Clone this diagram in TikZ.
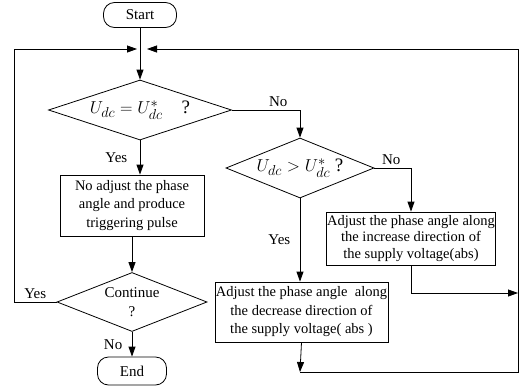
\documentclass[tikz,border=0pt]{standalone}
\usepackage{fontspec}
\setmainfont{Liberation Serif}
\usetikzlibrary{shapes.geometric,arrows.meta}

\tikzset{
	every node/.style={font=\fontsize{15}{18.5}\selectfont},
	term/.style={draw, rectangle, rounded corners=11pt, inner sep=0pt},
	decision/.style={draw, diamond, aspect=3, inner sep=0pt},
	process/.style={draw, rectangle, align=center, inner sep=1pt, font=\fontsize{14.5}{18.5}\selectfont},
	bigmath/.style={font=\fontsize{19}{19}\selectfont},
	arr/.style={-{Triangle[length=10pt,width=7pt]}}
}

\begin{document}
\begin{tikzpicture}[x=1pt, y=-1pt, line width=0.8pt]
	\useasboundingbox (0,0) rectangle (523,389);

	% start, decisions and end
	\node[term, minimum width=73pt, minimum height=25pt]	(start)	at (140,15)		{Start};
	\node[decision, bigmath, minimum width=183pt, minimum height=60pt]	(eq)	at (140,110)	{$U_{dc} = U_{dc}^{*}$\quad ?};
	\node[decision, bigmath, minimum width=148pt, minimum height=60pt]	(gt)	at (300,168)	{$U_{dc} > U_{dc}^{*}$\ ?};
	\node[decision, minimum width=150pt, minimum height=59pt, align=center]	(cont)	at (132,302)	{Continue\\?};
	\node[term, minimum width=69pt, minimum height=28pt]	(stop)	at (132,371)	{End};

	% actions
	\node[process, minimum width=144pt, minimum height=61pt]	(hold)	at (132,205.5)	{No adjust the phase\\angle and produce\\triggering pulse};
	\node[process, minimum width=168pt, minimum height=53pt, font=\fontsize{14.5}{16.5}\selectfont]	(inc)	at (411,238.5)	{Adjust the phase angle along\\the increase direction of\\the supply voltage(abs)};
	\node[process, minimum width=169pt, minimum height=60pt]	(dec)	at (301.5,312)	{Adjust the phase angle\ \ along\\the decrease direction of\\the supply voltage( abs )};

	% loop corners
	\coordinate (lt)	at (14,49);
	\coordinate (lb)	at (14,302);
	\coordinate (rt)	at (518,49);
	\coordinate (rb)	at (518,372);
	\coordinate (rm)	at (518,293);
	\coordinate (db)	at (300,372);
	\coordinate (jl)	at (137,49);
	\coordinate (jr)	at (147,49);

	% main flow
	\draw[arr]	(start)	--	(eq);
	\draw[arr]	(eq.south)	--	(eq.south |- hold.north)	node[midway, left=9pt]	{Yes};
	\draw[arr]	(hold)	--	(cont);
	\draw[arr]	(cont)	--	(stop)	node[midway, left=6pt]	{No};
	\draw[arr]	(eq.east)	-|	(gt.north)	node[pos=0.34, above]	{No};
	\draw[arr]	(gt.east)	-|	(inc.north)	node[pos=0.23, above]	{No};
	\draw[arr]	(gt.south)	--	(gt.south |- dec.north)	node[midway, left=6pt]	{Yes};

	% back to the top
	\draw[arr]	(cont.west)	--	(lb)	node[midway, above]	{Yes}	--	(lt)	--	(jl);
	\draw[arr]	(inc.south)	|-	(rm);
	\draw[arr]	(dec.south)	--	(db);
	\draw[arr]	(db)	--	(rb)	--	(rt)	--	(jr);
\end{tikzpicture}
\end{document}
